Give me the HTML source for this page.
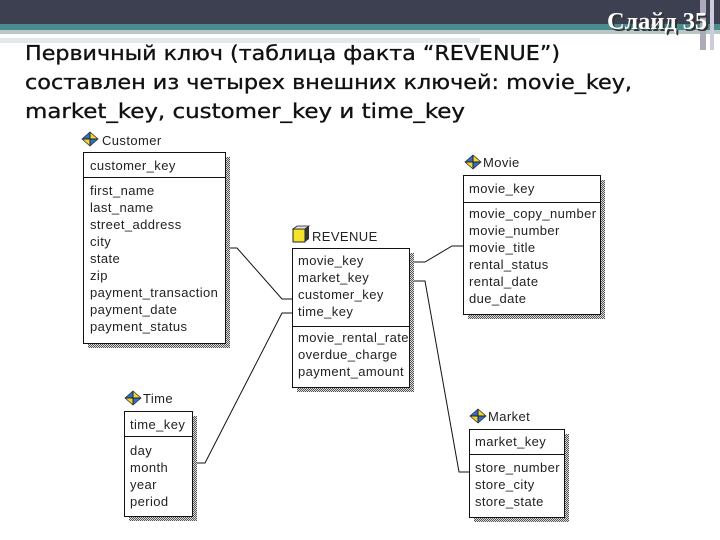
<!DOCTYPE html>
<html><head><meta charset="utf-8"><style>
html,body{margin:0;padding:0;background:#fff;}
svg{display:block}
.t{font-family:"Liberation Sans",Arial,sans-serif;font-size:13px;fill:#222;letter-spacing:0.4px}
.h{font-family:"DejaVu Sans Condensed","Liberation Sans",sans-serif;font-size:20px;fill:#111;stroke:#111;stroke-width:0.3}
</style></head><body>
<svg width="720" height="540" viewBox="0 0 720 540" xmlns="http://www.w3.org/2000/svg">
<defs>
<pattern id="st" width="2" height="2" patternUnits="userSpaceOnUse"><rect width="2" height="2" fill="#ddd"/><rect width="1" height="1" fill="#555"/><rect x="1" y="1" width="1" height="1" fill="#555"/></pattern>
<g id="dia"><polygon points="8,0 16,7 8,14 0,7" fill="#2f6fc8"/><polygon points="8,0 16,7 8,7" fill="#f2d630"/><polygon points="0,7 8,7 8,14" fill="#f2d630"/><line x1="8" y1="0" x2="8" y2="14" stroke="#222"/><line x1="0" y1="7" x2="16" y2="7" stroke="#222"/><polygon points="8,0 16,7 8,14 0,7" fill="none" stroke="#333" stroke-width="0.8"/></g>
</defs>
<rect x="0" y="0" width="720" height="24" fill="#3d4050"/>
<rect x="0" y="24" width="720" height="6" fill="#4a8c8c"/>
<rect x="0" y="30" width="720" height="4" fill="#b8c8c8"/>
<rect x="0" y="38" width="480" height="5" fill="#e4e8ea"/>
<rect x="700" y="0" width="6" height="50" fill="#aab"/>
<rect x="710" y="0" width="4" height="50" fill="#ccd"/>
<text x="609" y="31" font-family="Liberation Serif,serif" font-size="24" font-weight="bold" fill="#333" textLength="100" lengthAdjust="spacingAndGlyphs">Слайд 35</text>
<text x="607" y="29" font-family="Liberation Serif,serif" font-size="24" font-weight="bold" fill="#fff" textLength="100" lengthAdjust="spacingAndGlyphs">Слайд 35</text>
<text class="h" x="25" y="60" textLength="535" lengthAdjust="spacingAndGlyphs">Первичный ключ (таблица факта “REVENUE”)</text>
<text class="h" x="25" y="89" textLength="607" lengthAdjust="spacingAndGlyphs">составлен из четырех внешних ключей: movie_key,</text>
<text class="h" x="25" y="118" textLength="440" lengthAdjust="spacingAndGlyphs">market_key, customer_key и time_key</text>

<g fill="none" stroke="#111" stroke-width="1">
<polyline points="227,248 237,248 282,299 293,299"/>
<polyline points="293,313 282,313 205,463 197,463"/>
<polyline points="414,262 425,262 452,246 463,246"/>
<polyline points="414,281 425,281 459,472 469,472"/>
</g>

<use href="#dia" x="82" y="132"/>
<text class="t" x="102" y="145">Customer</text>
<rect x="88" y="157" width="142" height="191" fill="url(#st)"/>
<rect x="83.5" y="152.5" width="142" height="191" fill="#fff" stroke="#111"/>
<line x1="83" y1="177.5" x2="226" y2="177.5" stroke="#111"/>
<g class="t"><text x="90" y="170">customer_key</text>
<text x="90" y="195">first_name</text><text x="90" y="212">last_name</text><text x="90" y="229">street_address</text><text x="90" y="246">city</text><text x="90" y="263">state</text><text x="90" y="280">zip</text><text x="90" y="297">payment_transaction</text><text x="90" y="314">payment_date</text><text x="90" y="331">payment_status</text></g>

<rect x="293" y="229" width="12" height="13" fill="#f5e22a" stroke="#222"/>
<polygon points="293,229 297,226 309,226 305,229" fill="#ddd" stroke="#222" stroke-width="0.8"/>
<polygon points="305,229 309,226 309,239 305,242" fill="#333"/>
<text class="t" x="312" y="241">REVENUE</text>
<rect x="297" y="253" width="117" height="139" fill="url(#st)"/>
<rect x="292.5" y="248.5" width="117" height="139" fill="#fff" stroke="#111"/>
<line x1="292" y1="326.5" x2="410" y2="326.5" stroke="#111"/>
<g class="t"><text x="298" y="265">movie_key</text><text x="298" y="282">market_key</text><text x="298" y="299">customer_key</text><text x="298" y="316">time_key</text>
<text x="298" y="342">movie_rental_rate</text><text x="298" y="359">overdue_charge</text><text x="298" y="376">payment_amount</text></g>

<use href="#dia" x="465" y="155"/>
<text class="t" x="483" y="167">Movie</text>
<rect x="468" y="180" width="137" height="139" fill="url(#st)"/>
<rect x="463.5" y="175.5" width="137" height="139" fill="#fff" stroke="#111"/>
<line x1="463" y1="202.5" x2="601" y2="202.5" stroke="#111"/>
<g class="t"><text x="469" y="193">movie_key</text>
<text x="469" y="218">movie_copy_number</text><text x="469" y="235">movie_number</text><text x="469" y="252">movie_title</text><text x="469" y="269">rental_status</text><text x="469" y="286">rental_date</text><text x="469" y="303">due_date</text></g>

<use href="#dia" x="470" y="409"/>
<text class="t" x="488" y="421">Market</text>
<rect x="474" y="434" width="95" height="88" fill="url(#st)"/>
<rect x="469.5" y="429.5" width="95" height="88" fill="#fff" stroke="#111"/>
<line x1="469" y1="454.5" x2="565" y2="454.5" stroke="#111"/>
<g class="t"><text x="475" y="446">market_key</text>
<text x="475" y="472">store_number</text><text x="475" y="489">store_city</text><text x="475" y="506">store_state</text></g>

<use href="#dia" x="125" y="391"/>
<text class="t" x="143" y="403">Time</text>
<rect x="129" y="416" width="68" height="105" fill="url(#st)"/>
<rect x="124.5" y="411.5" width="68" height="105" fill="#fff" stroke="#111"/>
<line x1="124" y1="436.5" x2="193" y2="436.5" stroke="#111"/>
<g class="t"><text x="130" y="429">time_key</text>
<text x="130" y="455">day</text><text x="130" y="472">month</text><text x="130" y="489">year</text><text x="130" y="506">period</text></g>
</svg>
</body></html>
